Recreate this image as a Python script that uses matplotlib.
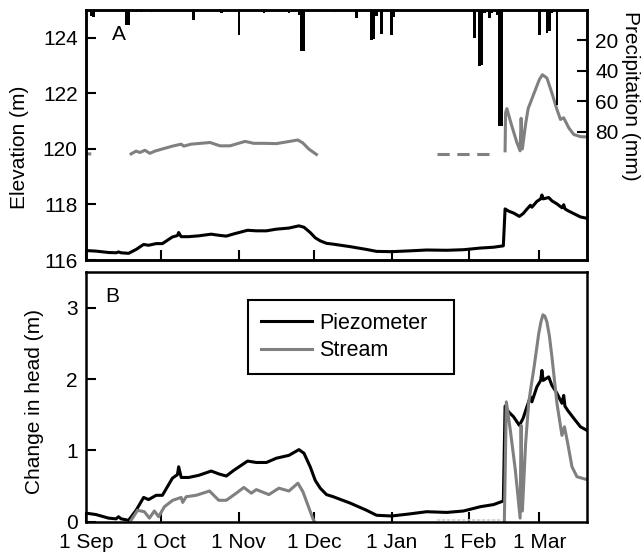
import numpy as np
import matplotlib.pyplot as plt

plt.rcParams['font.family'] = ['Liberation Sans', 'DejaVu Sans']
plt.rcParams['font.size'] = 15

nan = np.nan

# x axis: days counted from 1 Sep
tick_days = [0, 30, 61, 91, 122, 153, 181]
tick_labels = ['1 Sep', '1 Oct', '1 Nov', '1 Dec', '1 Jan', '1 Feb', '1 Mar']

# daily precipitation (mm), hanging from the top of panel A
rain_days = [2, 3, 16, 17, 20, 22, 26, 43, 54, 61, 71, 81, 85, 86, 87, 99, 108, 114, 115, 116,
             118, 122, 123, 155, 157, 158, 159, 161, 162, 164, 165, 166, 181, 184, 185, 186, 188]
rain_mm = [4, 4.5, 10, 10, 1.5, 1.5, 1.5, 6.5, 2, 16.5, 2, 2, 3, 27, 27, 1.5, 5.5, 20, 19, 4,
           16, 16.5, 4.5, 18.5, 36.5, 36, 2, 5.5, 2, 3, 76, 76, 16.5, 15, 14, 2, 62]

# piezometer
piezo_days = [0, 4, 9, 12, 13, 14, 17, 20, 23, 25, 28, 30.5, 34.5, 36.5, 37, 38, 41, 45, 50, 53,
              56, 59, 64.5, 68, 72, 76, 81, 85, 87, 89.5, 91.5, 93.5, 96, 98.7, 105.5, 112, 116,
              122, 129.4, 136, 144, 150.7, 157.4, 162.7, 166.6, 167.3, 168.7, 170.7, 173, 174.5,
              176, 177.4, 178, 180, 181.5, 182, 182.5, 184.7, 186, 188, 190, 190.7, 191.2, 192.3,
              194.7, 197.4, 200]
piezo_elev = [116.34, 116.32, 116.27, 116.26, 116.29, 116.26, 116.24, 116.38, 116.56, 116.53,
              116.59, 116.59, 116.83, 116.88, 116.99, 116.84, 116.84, 116.87, 116.93, 116.89,
              116.86, 116.94, 117.07, 117.05, 117.05, 117.11, 117.15, 117.23, 117.18, 116.99,
              116.80, 116.69, 116.60, 116.57, 116.48, 116.38, 116.31, 116.30, 116.33, 116.36,
              116.35, 116.37, 116.43, 116.46, 116.51, 117.84, 117.76, 117.69, 117.57, 117.67,
              117.83, 117.97, 117.90, 118.11, 118.20, 118.34, 118.20, 118.25, 118.13, 118.02,
              117.88, 117.99, 117.84, 117.78, 117.67, 117.55, 117.50]
piezo_change = [0.12, 0.10, 0.05, 0.04, 0.07, 0.04, 0.02, 0.16, 0.34, 0.31, 0.37, 0.37, 0.61,
                0.66, 0.77, 0.62, 0.62, 0.65, 0.71, 0.67, 0.64, 0.72, 0.85, 0.83, 0.83, 0.89,
                0.93, 1.01, 0.96, 0.77, 0.58, 0.47, 0.38, 0.35, 0.26, 0.16, 0.09, 0.08, 0.11,
                0.14, 0.13, 0.15, 0.21, 0.24, 0.29, 1.62, 1.54, 1.47, 1.35, 1.45, 1.61, 1.75,
                1.68, 1.89, 1.98, 2.12, 1.98, 2.03, 1.91, 1.80, 1.66, 1.77, 1.62, 1.56, 1.45,
                1.33, 1.28]

# stream stage (panel A), gaps where no record
stream_days = [0, 1.5, nan, 18, 20, 21.5, 23.5, 25.5, 27.5, 31, 35, 38, 39, 42, 49.5, 53.5, 57.5,
               63.5, 67, 71, 76, 80, 84.5, 86.5, 89, 92, nan, 167.3, 167.5, 168, 170, 172, 173.3,
               173.7, 174.2, 175.5, 176.5, 177.4, 179.4, 181, 182.2, 184, 186, 188, 189.4, 190.7,
               192.7, 194.7, 197.4, 200]
stream_elev = [119.82, 119.82, nan, 119.82, 119.92, 119.87, 119.95, 119.84, 119.92, 120.01,
               120.11, 120.17, 120.10, 120.17, 120.23, 120.11, 120.11, 120.27, 120.20, 120.20,
               120.19, 120.25, 120.32, 120.22, 119.99, 119.80, nan, 119.93, 121.3, 121.45,
               120.82, 120.23, 119.93, 121.1, 120.0, 120.9, 121.45, 121.66, 122.13, 122.5,
               122.67, 122.55, 122.01, 121.42, 121.06, 121.12, 120.76, 120.52, 120.44, 120.43]
dry_days = [140, 163]
dry_elev = [119.8, 119.8]

# stream change in head (panel B)
stream_chg_days = [18, 20.6, 23.3, 25.3, 27.3, 29, 31.3, 34.6, 38, 38.6, 40, 44, 49.3, 53, 56,
                   60, 63, 66, 68, 73, 77, 81, 84.6, 86.6, 90.5, 91.2, nan, 167, 167.8, 169.4,
                   171.4, 173.3, 173.7, 174.2, 175.5, 176.7, 177.7, 178.8, 179.8, 180.7, 181.6,
                   182.4, 183.2, 184, 185, 186, 188, 190, 191, 192.3, 194, 196, 200]
stream_change = [0.02, 0.16, 0.14, 0.05, 0.15, 0.07, 0.21, 0.30, 0.34, 0.27, 0.35, 0.37, 0.43,
                 0.30, 0.30, 0.40, 0.48, 0.40, 0.45, 0.38, 0.47, 0.43, 0.54, 0.42, 0.05, 0.0,
                 nan, 0.0, 1.68, 1.28, 0.72, 0.05, 1.35, 0.15, 1.1, 1.66, 1.9, 2.15, 2.4, 2.63,
                 2.80, 2.90, 2.88, 2.80, 2.6, 2.31, 1.66, 1.21, 1.33, 1.10, 0.77, 0.63, 0.59]
dry_chg_days = [140, 166]
dry_change = [0.02, 0.02]

grey = '#808080'
lw = 2.2

fig = plt.figure(figsize=(6.44, 5.55), dpi=100)
ax1 = fig.add_axes([86 / 644, 1 - 260 / 555, 501 / 644, 250 / 555])
ax3 = fig.add_axes([86 / 644, 1 - 521.7 / 555, 501 / 644, 249.7 / 555])

# --- panel A ---
ax1.plot(piezo_days, piezo_elev, color='black', lw=lw)
ax1.plot(stream_days, stream_elev, color=grey, lw=lw)
ax1.plot(dry_days, dry_elev, color=grey, lw=lw, dashes=(4, 2.5))
ax1.set_xlim(0, 200)
ax1.set_ylim(116, 125)
ax1.set_yticks([116, 118, 120, 122, 124])
ax1.set_xticks(tick_days)
ax1.tick_params(axis='x', labelbottom=False)
ax1.set_ylabel('Elevation (m)', va='center')
ax1.yaxis.set_label_coords(-0.132, 0.45)
ax1.text(0.065, 0.9, 'A', transform=ax1.transAxes, ha='center', va='center')

ax2 = ax1.twinx()
ax2.bar(rain_days, rain_mm, width=1.0, color='black')
ax2.set_ylim(164, 0)
ax2.set_yticks([20, 40, 60, 80])
ax2.set_ylabel('Precipitation (mm)', rotation=270, ha='center', va='center')
ax2.yaxis.set_label_coords(1.087, 0.655)

# --- panel B ---
ax3.plot(piezo_days, piezo_change, color='black', lw=lw, label='Piezometer')
ax3.plot(stream_chg_days, stream_change, color=grey, lw=lw, label='Stream')
ax3.plot(dry_chg_days, dry_change, color='#d0d0d0', lw=1.2, dashes=(2, 1))
ax3.set_xlim(0, 200)
ax3.set_ylim(0, 3.5)
ax3.set_yticks([0, 1, 2, 3])
ax3.set_xticks(tick_days)
ax3.set_xticklabels(tick_labels)
ax3.set_ylabel('Change in head (m)', va='center')
ax3.yaxis.set_label_coords(-0.102, 0.48)
ax3.text(0.053, 0.902, 'B', transform=ax3.transAxes, ha='center', va='center')
leg = ax3.legend(loc='upper left', bbox_to_anchor=(0.323, 0.5, 0.412, 0.388), mode='expand',
                 borderaxespad=0, fancybox=False, framealpha=1, edgecolor='black',
                 handlelength=2.4, handletextpad=0.3, borderpad=0.6, labelspacing=0.3,
                 fontsize=15.5)
leg.get_frame().set_linewidth(1.5)

for ax in (ax1, ax2, ax3):
    for sp in ax.spines.values():
        sp.set_linewidth(1.8)
    ax.tick_params(direction='in', length=7, width=1.5, pad=6, labelsize=15)
ax3.tick_params(axis='x', pad=8)
ax1.tick_params(axis='y', right=False)
ax3.tick_params(axis='y', right=False)

fig.savefig('out.png', dpi=100)
